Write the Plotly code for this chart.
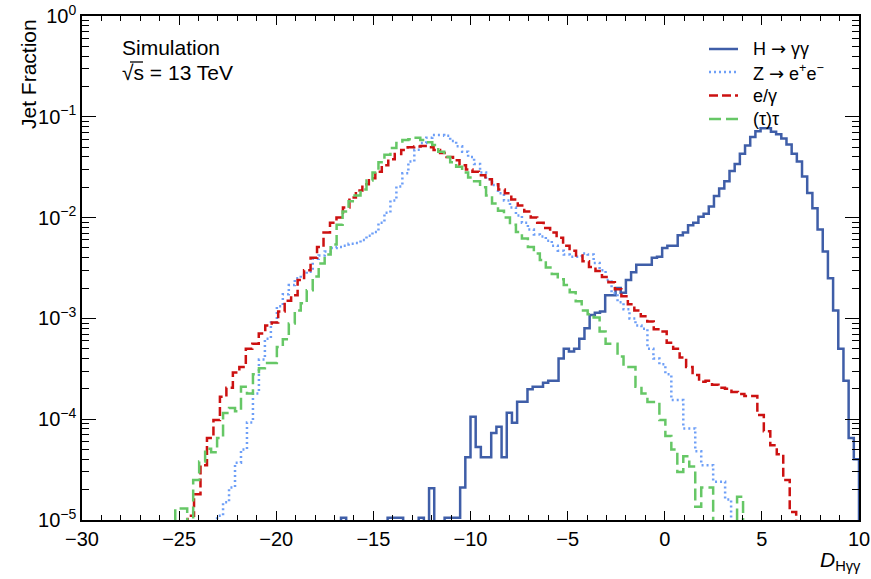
import numpy as np
import plotly.graph_objects as go

# ---------------- data ----------------
# H -> gamma gamma : 150 bins on [-30, 10]
hgg_lo, hgg_width, hgg_first = -30.0, 40.0 / 150, 50
hgg_vals = [
    1.05e-5, 0, 0, 0, 0, 0, 0, 0, 0, 1.05e-5,
    1.05e-5, 1.05e-5, 0, 0, 0, 1.05e-5, 0, 2.06e-5, 0, 0,
    1.05e-5, 1.05e-5, 1.05e-5, 2.1e-5, 4.2e-5, 1.06e-4, 5.3e-5, 4.2e-5, 4.2e-5, 7.3e-5,
    8.4e-5, 4.2e-5, 1.16e-4, 9.2e-5, 1.49e-4, 1.49e-4, 1.98e-4, 2.1e-4, 2.1e-4, 2.3e-4,
    2.4e-4, 2.4e-4, 4.0e-4, 5.0e-4, 4.7e-4, 5.0e-4, 6.3e-4, 8.0e-4, 1.08e-3, 1.14e-3,
    1.17e-3, 1.7e-3, 1.7e-3, 2.0e-3, 1.8e-3, 2.4e-3, 2.87e-3, 3.4e-3, 3.4e-3, 3.4e-3,
    4.0e-3, 4.1e-3, 5.0e-3, 5.25e-3, 5.25e-3, 6.7e-3, 7.1e-3, 8.4e-3, 8.9e-3, 1.02e-2,
    1.09e-2, 1.29e-2, 1.64e-2, 1.94e-2, 2.3e-2, 2.9e-2, 3.4e-2, 4.3e-2, 5.2e-2, 6.3e-2,
    7.2e-2, 7.7e-2, 7.7e-2, 7.1e-2, 6.7e-2, 6.1e-2, 5.3e-2, 4.3e-2, 3.6e-2, 2.55e-2,
    1.75e-2, 1.24e-2, 7.6e-3, 4.6e-3, 2.5e-3, 1.2e-3, 5.0e-4, 2.4e-4, 6.5e-5, 4.0e-5,
]

# Z -> e+ e- : bins of 40/130
zee_lo, zee_width, zee_first = -29.815, 40.0 / 130, 22
zee_vals = [
    1.1e-5, 1.5e-5, 2.1e-5, 3.7e-5, 5.0e-5, 9.3e-5, 1.8e-4, 3.9e-4, 6.3e-4, 9.1e-4,
    1.32e-3, 1.74e-3, 2.14e-3, 2.5e-3, 2.7e-3, 2.9e-3, 3.9e-3, 4.2e-3, 4.6e-3, 5.0e-3,
    5.1e-3, 5.25e-3, 5.5e-3, 5.6e-3, 6.0e-3, 6.6e-3, 7.2e-3, 8.9e-3, 1.12e-2, 1.48e-2,
    2.04e-2, 2.75e-2, 3.6e-2, 4.7e-2, 5.5e-2, 6.2e-2, 6.6e-2, 6.6e-2, 6.5e-2, 5.75e-2,
    5.1e-2, 4.5e-2, 4.0e-2, 3.4e-2, 2.8e-2, 2.4e-2, 2.1e-2, 1.74e-2, 1.48e-2, 1.26e-2,
    1.05e-2, 8.9e-3, 7.6e-3, 6.8e-3, 6.5e-3, 5.9e-3, 5.25e-3, 4.7e-3, 4.3e-3, 4.1e-3,
    4.1e-3, 4.4e-3, 4.3e-3, 3.55e-3, 3.0e-3, 2.4e-3, 1.78e-3, 1.45e-3, 1.23e-3, 1.0e-3,
    8.5e-4, 7.9e-4, 5.0e-4, 4.0e-4, 3.5e-4, 2.8e-4, 1.55e-4, 1.55e-4, 8.1e-5, 8.1e-5,
    4.8e-5, 3.5e-5, 3.5e-5, 2.4e-5, 2.4e-5, 1.6e-5,
]

# e / gamma : bins of 1/3
eg_lo, eg_width, eg_first = -29.9, 1.0 / 3, 16
eg_vals = [
    1.1e-5, 1.8e-5, 3.5e-5, 6.5e-5, 9.8e-5, 1.67e-4, 2.05e-4, 2.9e-4, 3.3e-4, 5.0e-4,
    5.6e-4, 7.1e-4, 8.5e-4, 9.1e-4, 1.17e-3, 1.5e-3, 1.7e-3, 2.4e-3, 3.0e-3, 4.0e-3,
    5.1e-3, 7.1e-3, 8.9e-3, 1.0e-2, 1.26e-2, 1.58e-2, 1.86e-2, 2.14e-2, 2.45e-2, 2.85e-2,
    3.3e-2, 3.8e-2, 4.27e-2, 4.68e-2, 5.0e-2, 5.07e-2, 5.13e-2, 5.0e-2, 4.68e-2, 4.37e-2,
    4.0e-2, 3.7e-2, 3.3e-2, 3.0e-2, 2.85e-2, 2.63e-2, 2.4e-2, 2.14e-2, 1.9e-2, 1.74e-2,
    1.51e-2, 1.32e-2, 1.15e-2, 1.0e-2, 8.9e-3, 7.9e-3, 7.1e-3, 6.3e-3, 5.25e-3, 4.7e-3,
    4.2e-3, 3.7e-3, 3.24e-3, 2.95e-3, 2.57e-3, 2.29e-3, 1.95e-3, 1.66e-3, 1.38e-3, 1.2e-3,
    1.05e-3, 9.3e-4, 7.8e-4, 7.4e-4, 5.75e-4, 5.0e-4, 4.1e-4, 3.3e-4, 2.75e-4, 2.35e-4,
    2.4e-4, 2.2e-4, 2.05e-4, 2.0e-4, 1.86e-4, 1.78e-4, 1.7e-4, 1.7e-4, 1.1e-4, 7.6e-5,
    5.5e-5, 4.5e-5, 2.5e-5, 1.2e-5,
]

# (tau) tau : bins of 40/130
tau_lo, tau_width, tau_first = -29.815, 40.0 / 130, 15
tau_vals = [
    1.3e-5, 1.3e-5, 0, 2.5e-5, 3.8e-5, 5.1e-5, 4.7e-5, 6.5e-5, 1.15e-4, 1.29e-4,
    1.2e-4, 2.1e-4, 1.8e-4, 2.8e-4, 3.2e-4, 3.6e-4, 3.6e-4, 5.2e-4, 6.2e-4, 8.9e-4,
    1.2e-3, 1.41e-3, 1.9e-3, 2.6e-3, 3.5e-3, 4.3e-3, 5.4e-3, 8.5e-3, 1.15e-2, 1.45e-2,
    1.66e-2, 1.9e-2, 2.34e-2, 2.8e-2, 3.55e-2, 4.2e-2, 4.9e-2, 5.5e-2, 5.9e-2, 6.0e-2,
    6.2e-2, 5.9e-2, 5.6e-2, 5.25e-2, 4.5e-2, 4.0e-2, 3.55e-2, 3.2e-2, 2.8e-2, 2.5e-2,
    2.3e-2, 2.0e-2, 1.66e-2, 1.38e-2, 1.17e-2, 1.0e-2, 8.5e-3, 7.2e-3, 6.2e-3, 5.1e-3,
    4.4e-3, 3.8e-3, 3.2e-3, 2.75e-3, 2.45e-3, 2.14e-3, 1.82e-3, 1.48e-3, 1.2e-3, 1.1e-3,
    1.02e-3, 7.4e-4, 5.6e-4, 5.6e-4, 4.2e-4, 3.3e-4, 3.3e-4, 2.1e-4, 1.8e-4, 1.48e-4,
    1.48e-4, 9.8e-5, 6.8e-5, 5.0e-5, 3.0e-5, 4.3e-5, 3.4e-5, 1.35e-5, 2.1e-5, 2.1e-5,
    0, 0, 0, 0, 1.7e-5,
]

x_tickvals = [-30, -25, -20, -15, -10, -5, 0, 5, 10]
x_ticktext = ["\u221230", "\u221225", "\u221220", "\u221215", "\u221210", "\u22125", "0", "5", "10"]
y_tickvals = [1e-5, 1e-4, 1e-3, 1e-2, 1e-1, 1]
y_ticktext = ["10<sup>\u22125</sup>", "10<sup>\u22124</sup>", "10<sup>\u22123</sup>",
              "10<sup>\u22122</sup>", "10<sup>\u22121</sup>", "10<sup>0</sup>"]

ARROW = "<span style='font-family:DejaVu Sans'>\u2192</span>"
legend_labels = [
    "H " + ARROW + " \u03b3\u03b3",
    "Z " + ARROW + " e<sup>+</sup>e<sup>\u2212</sup>",
    "e/\u03b3",
    "(\u03c4)\u03c4",
]

# ---------------- drawing ----------------
FLOOR = 1e-9  # empty bins drawn below the visible range
FONT = "Liberation Sans, Arial, Helvetica, sans-serif"

W, H = 871, 579
ML, MR, MT, MB = 82, 12, 16, 59
PW, PH = W - ML - MR, H - MT - MB


def px_x(px):
    return (px - ML) / PW


def px_y(py):
    return (H - MB - py) / PH


def step_xy(lo, width, first, vals):
    n = len(vals)
    edges = lo + width * np.arange(first - 1, first + n + 2)
    y = [FLOOR] + [v if v > 0 else FLOOR for v in vals] + [FLOOR, FLOOR]
    return edges, y


styles = [
    ("#3f5ea8", "solid"),
    ("#6e9ff7", "2px,3px"),
    ("#cc1111", "9px,4px"),
    ("#66c766", "12px,5px"),
]
hists = [
    (hgg_lo, hgg_width, hgg_first, hgg_vals),
    (zee_lo, zee_width, zee_first, zee_vals),
    (eg_lo, eg_width, eg_first, eg_vals),
    (tau_lo, tau_width, tau_first, tau_vals),
]

fig = go.Figure()
for (lo, w, first, vals), (color, dash), name in zip(hists, styles, legend_labels):
    xs, ys = step_xy(lo, w, first, vals)
    fig.add_trace(go.Scatter(
        x=xs, y=ys, mode="lines", name=name, showlegend=False,
        line=dict(color=color, width=2.5, dash=dash, shape="hv"),
    ))

# legend drawn by hand to match the ROOT layout
legend_rows = [49, 72, 95.5, 119]
for (color, dash), name, py in zip(styles, legend_labels, legend_rows):
    fig.add_shape(type="line", xref="paper", yref="paper",
                  x0=px_x(709), x1=px_x(738), y0=px_y(py), y1=px_y(py),
                  line=dict(color=color, width=2.5, dash=dash))
    fig.add_annotation(text=name, xref="paper", yref="paper", x=px_x(751), y=px_y(py),
                       xanchor="left", yanchor="middle", showarrow=False,
                       font=dict(size=18, family=FONT))

fig.update_layout(
    width=W, height=H,
    margin=dict(l=ML, r=MR, t=MT, b=MB),
    paper_bgcolor="white", plot_bgcolor="white",
    font=dict(family=FONT, size=20, color="black"),
    showlegend=False,
    xaxis=dict(
        range=[-30, 10], showgrid=False, zeroline=False, automargin=False,
        showline=True, linecolor="black", linewidth=1.5, mirror="allticks",
        ticks="inside", ticklen=9, tickwidth=1.3, tickcolor="black",
        tickvals=x_tickvals, ticktext=x_ticktext,
        tickfont=dict(size=20, family=FONT),
        minor=dict(dtick=1, ticks="inside", ticklen=5, tickwidth=1.1, tickcolor="black", showgrid=False),
    ),
    yaxis=dict(
        type="log", range=[-5, 0], showgrid=False, zeroline=False, automargin=False,
        showline=True, linecolor="black", linewidth=1.5, mirror="allticks",
        ticks="inside", ticklen=14, tickwidth=1.3, tickcolor="black",
        tickvals=y_tickvals, ticktext=y_ticktext,
        tickfont=dict(size=20, family=FONT),
        minor=dict(dtick="D1", ticks="inside", ticklen=7, tickwidth=1.1, tickcolor="black", showgrid=False),
    ),
)

fig.add_annotation(text="Simulation", xref="paper", yref="paper", x=px_x(120), y=px_y(47.5),
                   xanchor="left", yanchor="middle", showarrow=False,
                   font=dict(size=21, family=FONT))
fig.add_annotation(text="\u221as = 13 TeV",
                   xref="paper", yref="paper", x=px_x(120), y=px_y(72),
                   xanchor="left", yanchor="middle", showarrow=False,
                   font=dict(size=21, family=FONT))
# overline of the square root over "s"
fig.add_shape(type="line", xref="paper", yref="paper",
              x0=px_x(130), x1=px_x(143), y0=px_y(62), y1=px_y(62),
              line=dict(color="black", width=1.3))
fig.add_annotation(text="Jet Fraction", xref="paper", yref="paper", x=px_x(28), y=px_y(17),
                   xanchor="center", yanchor="top", textangle=-90, showarrow=False,
                   font=dict(size=21, family=FONT))
fig.add_annotation(text="<i>D</i><sub>H\u03b3\u03b3</sub>", xref="paper", yref="paper",
                   x=px_x(863), y=px_y(561), xanchor="right", yanchor="middle", showarrow=False,
                   font=dict(size=21, family=FONT))

fig.write_html("out.html")
